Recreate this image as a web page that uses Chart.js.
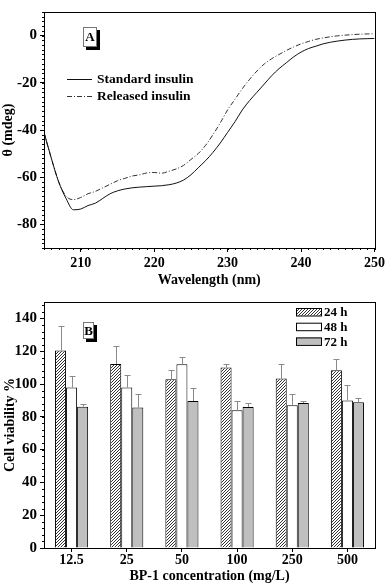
<!DOCTYPE html>
<html>
<head>
<meta charset="utf-8">
<script src="https://cdn.jsdelivr.net/npm/chart.js@4"></script>
<style>
  body { margin: 0; background: #fff; }
  .box { position: absolute; left: 0; width: 388px; }
</style>
</head>
<body>
<div class="box" style="top:0;height:290px"><canvas id="cdChart" width="388" height="290"></canvas></div>
<div class="box" style="top:290px;height:295px"><canvas id="cellChart" width="388" height="295"></canvas></div>
<script>
// panel A: CD spectra
const wavelengths = [205, 206, 207, 208, 209, 210, 211, 212, 213, 214, 215, 216, 217, 218, 219, 220,
  221, 222, 223, 224, 225, 226, 227, 228, 229, 230, 231, 232, 233, 234, 235, 236, 237, 238, 239, 240,
  241, 242, 243, 244, 245, 246, 247, 248, 249, 250];
const standardInsulin = [-41, -52, -62, -69, -73.8, -73.5, -72, -71, -69, -67, -65.8, -65, -64.5, -64.2, -64, -63.8,
  -63.6, -63.2, -62.5, -61.2, -59, -56, -53, -49.5, -45.5, -41, -36.5, -31.5, -27.5, -24, -20.5, -17, -14, -11.5, -9, -7,
  -5.5, -4.5, -3.5, -2.8, -2.3, -1.9, -1.6, -1.4, -1.3, -1.2];
const releasedInsulin = [-41, -52, -62, -68, -69.5, -68.6, -67, -66, -64.5, -63, -61.5, -60.5, -59.5, -59, -58.2, -58,
  -58.3, -57.5, -56.5, -55, -52.5, -50, -46.5, -42, -37, -31.5, -27, -22.5, -18.5, -15, -12, -9.8, -8, -6.3, -4.8, -3.5,
  -2.5, -1.6, -1, -0.5, -0.1, 0.2, 0.4, 0.6, 0.7, 0.8];
const cdXTicks = [210, 220, 230, 240, 250];
const cdYTicks = [-80, -60, -40, -20, 0];

// panel B: cell viability
const concentrations = ["12.5", "25", "50", "100", "250", "500"];
const viability24h = [120.5, 112.2, 102.9, 110, 103.3, 108.4];
const error24h = [14.7, 11, 5.9, 2.4, 9.1, 7.1];
const viability48h = [97.8, 97.8, 112, 84, 87, 90];
const error48h = [7.2, 7.9, 4.5, 5.6, 6.7, 9.6];
const viability72h = [86.2, 85.6, 89.6, 86, 88.4, 88.8];
const error72h = [1.8, 8.3, 7.8, 2.2, 1.1, 2.9];
const viabilityYTicks = [0, 20, 40, 60, 80, 100, 120, 140];

const serif = "'Liberation Serif', 'Times New Roman', serif";
Chart.defaults.font.family = serif;
Chart.defaults.font.weight = "bold";
Chart.defaults.font.size = 14;
Chart.defaults.color = "#000";

function hatch() {
  const c = document.createElement("canvas");
  c.width = 3; c.height = 3;
  const g = c.getContext("2d");
  g.fillStyle = "#fff";
  g.fillRect(0, 0, 3, 3);
  g.strokeStyle = "#333";
  g.lineWidth = 1;
  g.beginPath();
  g.moveTo(0, 3); g.lineTo(3, 0);
  g.moveTo(-1, 1); g.lineTo(1, -1);
  g.moveTo(2, 4); g.lineTo(4, 2);
  g.stroke();
  return g.createPattern(c, "repeat");
}
const hatchFill = hatch();

// box round the plot area
const frame = {
  id: "frame",
  afterDatasetsDraw(chart) {
    const a = chart.chartArea, ctx = chart.ctx;
    ctx.save();
    ctx.strokeStyle = "#000";
    ctx.lineWidth = 1;
    ctx.strokeRect(Math.round(a.left) + 0.5, Math.round(a.top) + 0.5,
      Math.round(a.right - a.left), Math.round(a.bottom - a.top));
    ctx.restore();
  }
};

const minorTicks = {
  id: "minorTicks",
  afterDraw(chart, args, opts) {
    const ctx = chart.ctx;
    ctx.save();
    ctx.strokeStyle = "#000";
    ctx.lineWidth = 1;
    ctx.beginPath();
    for (const id in opts.axes) {
      const s = chart.scales[id], step = opts.axes[id];
      const first = Math.ceil(s.min / step);
      const last = Math.floor(s.max / step);
      for (let k = first; k <= last; k++) {
        const p = Math.round(s.getPixelForValue(k * step)) + 0.5;
        if (s.isHorizontal()) { ctx.moveTo(p, s.top); ctx.lineTo(p, s.top + 2); }
        else { ctx.moveTo(s.right, p); ctx.lineTo(s.right - 2, p); }
      }
    }
    ctx.stroke();
    ctx.restore();
  }
};

const panelTag = {
  id: "panelTag",
  afterDraw(chart, args, o) {
    const ctx = chart.ctx;
    ctx.save();
    ctx.fillStyle = "#000";
    ctx.fillRect(o.x + 3, o.y + 3, o.w, o.h);
    ctx.fillStyle = "#fff";
    ctx.fillRect(o.x, o.y, o.w, o.h);
    ctx.strokeStyle = "#777";
    ctx.lineWidth = 1;
    ctx.strokeRect(o.x + 0.5, o.y + 0.5, o.w - 1, o.h - 1);
    ctx.fillStyle = "#000";
    ctx.font = "bold 13px " + serif;
    ctx.textAlign = "center";
    ctx.textBaseline = "middle";
    ctx.fillText(o.text, o.x + o.w / 2, o.y + o.h / 2 + 1);
    ctx.restore();
  }
};

const lineLegend = {
  id: "lineLegend",
  afterDraw(chart, args, o) {
    const ctx = chart.ctx;
    chart.data.datasets.forEach((ds, i) => {
      const y = o.y + i * o.rowGap;
      ctx.save();
      ctx.strokeStyle = ds.borderColor;
      ctx.lineWidth = ds.borderWidth;
      ctx.setLineDash(ds.borderDash || []);
      ctx.beginPath();
      ctx.moveTo(o.x, y + 0.5);
      ctx.lineTo(o.x + o.lineLen, y + 0.5);
      ctx.stroke();
      ctx.setLineDash([]);
      ctx.fillStyle = "#000";
      ctx.font = "bold 13.5px " + serif;
      ctx.textBaseline = "middle";
      ctx.fillText(ds.label, o.x + o.lineLen + 5, y + 1);
      ctx.restore();
    });
  }
};

const barLegend = {
  id: "barLegend",
  afterDraw(chart, args, o) {
    const ctx = chart.ctx;
    chart.data.datasets.forEach((ds, i) => {
      const y = o.y + i * o.rowGap;
      ctx.save();
      ctx.fillStyle = ds.backgroundColor;
      ctx.fillRect(o.x, y, o.w, o.h);
      ctx.strokeStyle = "#000";
      ctx.lineWidth = 1;
      ctx.strokeRect(o.x + 0.5, y + 0.5, o.w, o.h);
      ctx.fillStyle = "#000";
      ctx.font = "bold 13px " + serif;
      ctx.textBaseline = "middle";
      ctx.fillText(ds.label, o.x + o.w + 3, y + o.h / 2 + 1);
      ctx.restore();
    });
  }
};

const errorBars = {
  id: "errorBars",
  afterDatasetsDraw(chart) {
    const ctx = chart.ctx, yScale = chart.scales.y;
    ctx.save();
    ctx.strokeStyle = "#8a8a8a";
    ctx.lineWidth = 1;
    chart.data.datasets.forEach((ds, i) => {
      const meta = chart.getDatasetMeta(i);
      meta.data.forEach((bar, j) => {
        const x = Math.round(bar.x) + 0.5;
        const yTop = Math.round(yScale.getPixelForValue(ds.data[j] + ds.errors[j])) + 0.5;
        ctx.beginPath();
        ctx.moveTo(x, bar.y);
        ctx.lineTo(x, yTop);
        ctx.moveTo(x - 3, yTop);
        ctx.lineTo(x + 3, yTop);
        ctx.stroke();
      });
    });
    ctx.restore();
  }
};

const axisGrid = { drawOnChartArea: false, drawTicks: true, tickLength: 4, color: "#000" };
const axisBorder = { display: true, color: "#000", width: 1 };

new Chart(document.getElementById("cdChart"), {
  type: "line",
  data: {
    datasets: [{
      label: "Standard insulin",
      data: wavelengths.map((w, i) => ({ x: w, y: standardInsulin[i] })),
      borderColor: "#111",
      borderWidth: 1,
      pointRadius: 0,
      cubicInterpolationMode: "monotone"
    }, {
      label: "Released insulin",
      data: wavelengths.map((w, i) => ({ x: w, y: releasedInsulin[i] })),
      borderColor: "#333",
      borderWidth: 1,
      borderDash: [5, 2, 1, 2],
      pointRadius: 0,
      cubicInterpolationMode: "monotone"
    }]
  },
  options: {
    responsive: false,
    animation: false,
    devicePixelRatio: 1,
    layout: { padding: { top: 2, right: 11, left: 0, bottom: 0 } },
    scales: {
      x: {
        type: "linear",
        min: 205,
        max: 250,
        afterBuildTicks: s => { s.ticks = cdXTicks.map(v => ({ value: v })); },
        afterFit: s => { s.height = 42; },
        grid: axisGrid,
        border: axisBorder,
        ticks: { padding: 3, maxRotation: 0 },
        title: { display: true, text: "Wavelength (nm)", padding: { top: 0, bottom: 1 } }
      },
      y: {
        min: -90,
        max: 10,
        afterBuildTicks: s => { s.ticks = cdYTicks.map(v => ({ value: v })); },
        afterFit: s => { s.width = 44; },
        grid: axisGrid,
        border: axisBorder,
        ticks: { padding: 3, font: { size: 15 } },
        title: { display: true, text: "θ (mdeg)", padding: { top: 0, bottom: 0 } }
      }
    },
    plugins: {
      legend: { display: false },
      tooltip: { enabled: false },
      minorTicks: { axes: { x: 1, y: 2 } },
      panelTag: { text: "A", x: 83, y: 27, w: 14, h: 20 },
      lineLegend: { x: 67, y: 79, rowGap: 17, lineLen: 25 }
    }
  },
  plugins: [frame, minorTicks, panelTag, lineLegend]
});

new Chart(document.getElementById("cellChart"), {
  type: "bar",
  data: {
    labels: concentrations,
    datasets: [
      { label: "24 h", data: viability24h, errors: error24h, backgroundColor: hatchFill, borderColor: "#000", borderWidth: 1 },
      { label: "48 h", data: viability48h, errors: error48h, backgroundColor: "#fff", borderColor: "#000", borderWidth: 1 },
      { label: "72 h", data: viability72h, errors: error72h, backgroundColor: "#bfbfbf", borderColor: "#000", borderWidth: 1 }
    ]
  },
  options: {
    responsive: false,
    animation: false,
    devicePixelRatio: 1,
    categoryPercentage: 0.6,
    barPercentage: 1.0,
    layout: { padding: { top: 12, right: 13, left: 0, bottom: 0 } },
    scales: {
      x: {
        afterFit: s => { s.height = 37; },
        grid: { ...axisGrid, offset: false },
        border: axisBorder,
        ticks: { padding: 0, maxRotation: 0 },
        title: { display: true, text: "BP-1 concentration (mg/L)", padding: { top: 0, bottom: 0 } }
      },
      y: {
        min: 0,
        max: 150,
        afterBuildTicks: s => { s.ticks = viabilityYTicks.map(v => ({ value: v })); },
        afterFit: s => { s.width = 44; },
        grid: axisGrid,
        border: axisBorder,
        ticks: { padding: 3, font: { size: 15 } },
        title: { display: true, text: "Cell viability %", padding: { top: 2, bottom: 0 } }
      }
    },
    plugins: {
      legend: { display: false },
      tooltip: { enabled: false },
      minorTicks: { axes: { y: 4 } },
      panelTag: { text: "B", x: 83, y: 32, w: 11, h: 17 },
      barLegend: { x: 296, y: 18, rowGap: 14.7, w: 25, h: 7.5 }
    }
  },
  plugins: [errorBars, frame, minorTicks, panelTag, barLegend]
});
</script>
</body>
</html>
